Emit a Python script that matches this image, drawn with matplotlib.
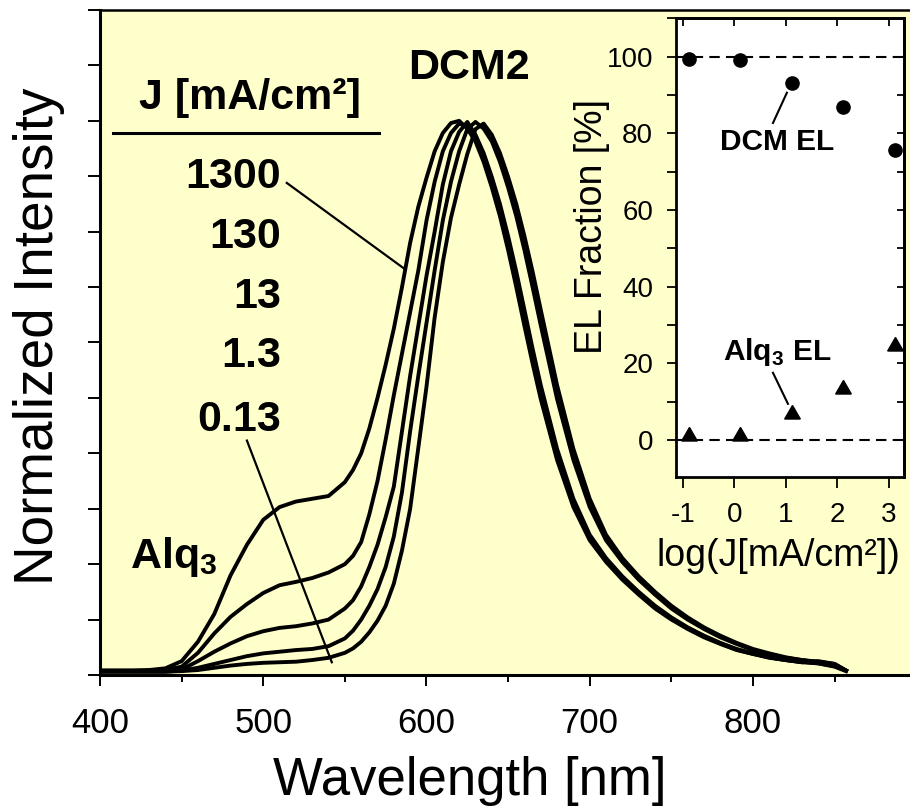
import matplotlib
matplotlib.use("Agg")
import matplotlib.pyplot as plt
from matplotlib.ticker import MultipleLocator, NullFormatter
import numpy as np

plt.rcParams["font.family"] = ["Liberation Sans", "DejaVu Sans"]
plt.rcParams["mathtext.fontset"] = "custom"
plt.rcParams["mathtext.rm"] = "Liberation Sans"
plt.rcParams["mathtext.bf"] = "Liberation Sans:bold"

# normalized EL spectra
wavelength = [400, 410, 420, 430, 440, 450, 460, 470, 480, 490, 500, 510, 520, 530, 540,
              550, 555, 560, 565, 570, 575, 580, 585, 590, 595, 600, 605, 610, 615, 620,
              625, 630, 635, 640, 645, 650, 655, 660, 665, 670, 680, 690, 700, 710, 720,
              730, 740, 750, 760, 770, 780, 790, 800, 810, 820, 830, 840, 850, 857]

I_1300 = [.008, .008, .008, .009, .012, .025, .06, .11, .18, .235, .28, .303, .313, .318, .323,
          .348, .37, .40, .445, .50, .56, .625, .70, .78, .845, .897, .945, .978, .996, 1.0,
          .986, .963, .926, .88, .828, .767, .70, .63, .562, .498, .388, .303, .243, .204, .172,
          .145, .12, .10, .083, .068, .056, .045, .038, .031, .027, .023, .025, .02, .008]

I_130 = [.008, .008, .008, .008, .009, .015, .04, .075, .105, .128, .148, .162, .168, .175, .185,
         .20, .215, .24, .29, .35, .425, .505, .58, .655, .73, .82, .89, .945, .978, .995,
         .99, .97, .935, .89, .84, .78, .715, .645, .575, .51, .398, .31, .248, .207, .175,
         .147, .123, .102, .085, .07, .057, .046, .038, .032, .027, .023, .021, .016, .008]

I_13 = [.007, .007, .007, .007, .007, .01, .025, .042, .057, .07, .079, .085, .088, .093, .10,
        .12, .135, .16, .195, .235, .285, .34, .44, .54, .63, .72, .80, .885, .945, .98,
        .998, .975, .942, .899, .85, .792, .728, .659, .589, .523, .408, .318, .253, .211, .178,
        .15, .125, .104, .086, .071, .058, .047, .039, .032, .027, .024, .021, .015, .007]

I_1_3 = [.006, .006, .006, .006, .006, .008, .013, .02, .027, .034, .039, .042, .045, .047, .052,
         .066, .08, .10, .125, .155, .195, .25, .33, .44, .54, .635, .73, .82, .89, .945,
         .985, .998, .986, .963, .926, .88, .828, .767, .70, .631, .498, .388, .303, .243, .204,
         .172, .145, .12, .10, .083, .068, .056, .045, .038, .031, .027, .023, .019, .008]

I_0_13 = [.006, .006, .006, .006, .006, .007, .009, .013, .017, .02, .022, .023, .024, .027, .031,
          .04, .048, .06, .077, .098, .125, .165, .225, .30, .41, .52, .645, .745, .825, .885,
          .94, .985, .995, .975, .942, .899, .85, .792, .728, .659, .523, .408, .318, .253, .211,
          .178, .15, .125, .104, .086, .071, .058, .047, .039, .032, .027, .024, .02, .008]

J_labels = ["1300", "130", "13", "1.3", "0.13"]

# inset: EL fractions vs current density
J_values = [0.13, 1.3, 13, 130, 1300]
dcm_el = [99.3, 99.1, 93.2, 87.0, 75.6]
alq_el = [1.0, 1.0, 6.8, 13.2, 24.5]

fig = plt.figure(figsize=(9.1, 8.08), dpi=100)

# main panel
ax = fig.add_axes([100 / 910, 1 - 675 / 808, 810 / 910, 665 / 808])
ax.set_facecolor("#FFFFCC")
for spec in [I_1300, I_130, I_13, I_1_3, I_0_13]:
    ax.plot(wavelength, spec, color="black", lw=2.8, solid_joinstyle="round")

ax.set_xlim(400, 896.2)
ax.set_ylim(0, 1.2)
ax.spines["right"].set_visible(False)
ax.spines["left"].set_linewidth(2.2)
ax.spines["bottom"].set_linewidth(2.2)
ax.spines["top"].set_linewidth(1.8)
ax.xaxis.set_major_locator(MultipleLocator(100))
ax.xaxis.set_minor_locator(MultipleLocator(50))
ax.xaxis.set_major_formatter(matplotlib.ticker.FuncFormatter(
    lambda v, p: "" if v > 850 else "%d" % v))
ax.yaxis.set_major_locator(MultipleLocator(0.1))
ax.yaxis.set_major_formatter(NullFormatter())
ax.tick_params(axis="x", which="major", direction="out", length=8, width=1.4,
               labelsize=25, pad=15)
ax.tick_params(axis="x", which="minor", direction="out", length=5, width=1.4)
ax.tick_params(axis="y", which="major", direction="out", length=9, width=1.4)

fig.text(470 / 910, 1 - 795 / 808, "Wavelength [nm]", fontsize=38,
         ha="center", va="baseline")
fig.text(53 / 910, 1 - 336 / 808, "Normalized Intensity", fontsize=39.5,
         rotation=90, rotation_mode="anchor", ha="center", va="baseline")

# annotations in the main panel
ax.text(626, 1.076, "DCM2", fontsize=31, fontweight="bold", ha="center", va="baseline")
ax.text(491.7, 1.0216, "J [mA/cm²]", fontsize=31, fontweight="bold",
        ha="center", va="baseline")
ax.plot([408, 571], [0.978, 0.978], color="black", lw=2.2)
label_y = [0.879, 0.771, 0.663, 0.555, 0.441]
for lab, yy in zip(J_labels, label_y):
    ax.text(510.9, yy, lab, fontsize=31, fontweight="bold", ha="right", va="baseline")
ax.plot([514.4, 586.5], [0.888, 0.733], color="black", lw=1.6)
ax.plot([490, 542], [0.423, 0.023], color="black", lw=1.6)
ax.text(418.4, 0.193, r"Alq$_\mathregular{3}$", fontsize=31, fontweight="bold",
        ha="left", va="baseline")

# inset panel
ax2 = fig.add_axes([676 / 910, 1 - 477 / 808, 228 / 910, 459 / 808])
ax2.set_facecolor("white")
logJ = np.log10(J_values)
ax2.axhline(100, color="black", lw=1.5, ls=(0, (5, 3)))
ax2.axhline(0, color="black", lw=1.5, ls=(0, (5, 3)))
ax2.plot(logJ, dcm_el, "o", color="black", ms=9.5, clip_on=False)
ax2.plot(logJ, alq_el, marker=(3, 0, 0), ls="none", color="black", ms=13, clip_on=False)
ax2.set_xlim(-1.13, 3.29)
ax2.set_ylim(-9.7, 110.1)
for s in ax2.spines.values():
    s.set_linewidth(2.0)
ax2.xaxis.set_major_locator(MultipleLocator(1))
ax2.yaxis.set_major_locator(MultipleLocator(20))
ax2.yaxis.set_minor_locator(MultipleLocator(10))
ax2.xaxis.set_major_formatter(matplotlib.ticker.FuncFormatter(lambda v, p: "%d" % v))
ax2.tick_params(axis="x", which="major", direction="out", length=8, width=1.3,
                labelsize=20, pad=10)
ax2.tick_params(axis="y", which="both", direction="out", length=6.5, width=1.3,
                labelsize=20, pad=10)
sec_x = ax2.secondary_xaxis("top")
sec_x.xaxis.set_major_locator(MultipleLocator(1))
sec_x.tick_params(direction="in", length=6, width=1.3, labeltop=False)
sec_x.spines["top"].set_linewidth(2.0)
sec_y = ax2.secondary_yaxis("right")
sec_y.yaxis.set_major_locator(MultipleLocator(10))
sec_y.tick_params(direction="in", length=5, width=1.3, labelright=False)
sec_y.spines["right"].set_linewidth(2.0)

fig.text(602 / 910, 1 - 226 / 808, "EL Fraction [%]", fontsize=27,
         rotation=90, rotation_mode="anchor", ha="center", va="baseline")
fig.text(778 / 910, 1 - 566 / 808, "log(J[mA/cm²])", fontsize=27,
         ha="center", va="baseline")

ax2.text(0.825, 77.7, "DCM EL", fontsize=21.5, fontweight="bold", ha="center", va="center")
ax2.plot([0.75, 1.02], [82.7, 90.6], color="black", lw=1.5)
ax2.text(0.825, 23, r"Alq$_\mathregular{3}$ EL", fontsize=21.5, fontweight="bold",
         ha="center", va="center")
ax2.plot([0.75, 1.04], [17.5, 9.4], color="black", lw=1.5)

fig.savefig("out.png", dpi=100)
